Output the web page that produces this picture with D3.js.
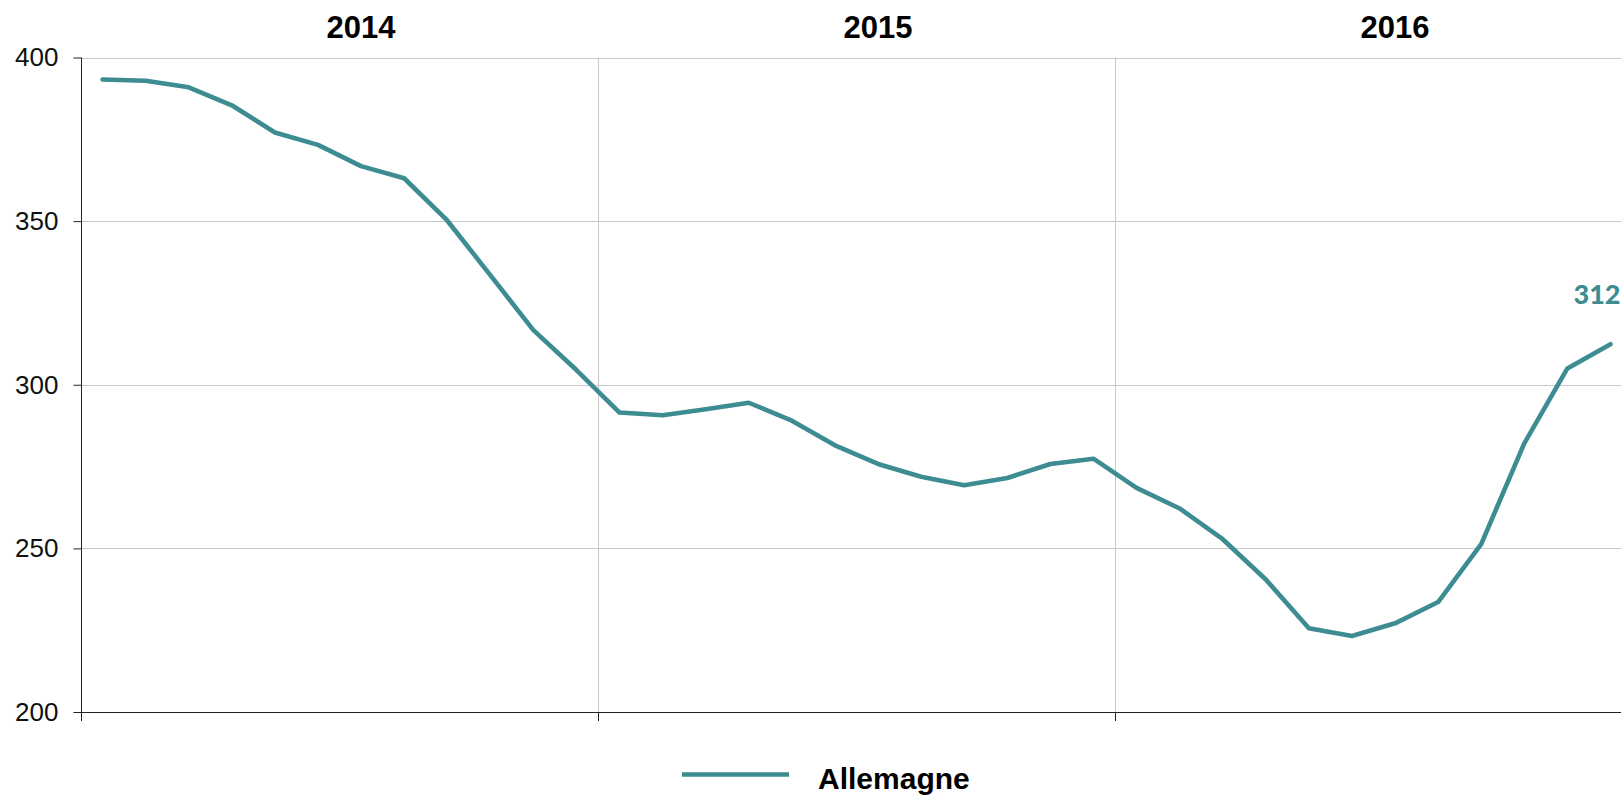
<!DOCTYPE html>
<html>
<head>
<meta charset="utf-8">
<script src="https://cdn.jsdelivr.net/npm/d3@7"></script>
<style>
  html, body { margin: 0; padding: 0; background: #fff; overflow: hidden; }
  svg { display: block; }
</style>
</head>
<body>
<svg id="chart" width="1621" height="796"></svg>
<script>
// ---- data ----
const years = ["2014", "2015", "2016"];
const months = ["01", "02", "03", "04", "05", "06", "07", "08", "09", "10", "11", "12"];
const values2014 = [393.3, 392.9, 390.9, 385.4, 377.1, 373.3, 366.8, 363.1, 350.2, 333.5, 316.7, 304.5];
const values2015 = [291.5, 290.7, 292.5, 294.5, 289.0, 281.5, 275.8, 271.9, 269.3, 271.5, 275.8, 277.4];
const values2016 = [268.5, 262.2, 252.8, 240.5, 225.6, 223.2, 227.1, 233.6, 251.3, 282.1, 305.0, 312.4];
const seriesName = "Allemagne";
const yTicks = [200, 250, 300, 350, 400];

// ---- build table ----
const yearValues = [values2014, values2015, values2016];
const data = [];
years.forEach((yr, i) => months.forEach((m, j) => data.push({ key: yr + "-" + m, year: yr, month: j, value: yearValues[i][j] })));

const color = "#3d8c92";
const font = "'Liberation Sans', Arial, sans-serif";

const svg = d3.select("#chart");
const plotLeft = 81, plotRight = 1632, plotTop = 57.5, plotBottom = 712;

const x = d3.scaleBand().domain(data.map(d => d.key)).range([plotLeft, plotRight]).padding(0);
const y = d3.scaleLinear().domain([200, 400]).range([plotBottom, plotTop]);

// horizontal gridlines
svg.append("g").selectAll("line").data(yTicks.filter(t => t > 200)).join("line")
  .attr("x1", plotLeft).attr("x2", 1621)
  .attr("y1", d => Math.round(y(d)) + 0.5).attr("y2", d => Math.round(y(d)) + 0.5)
  .attr("stroke", "#c8c8c8").attr("stroke-width", 1);

// year boundaries (vertical gridlines)
const boundaries = years.slice(1).map(yr => x(yr + "-01"));
svg.append("g").selectAll("line").data(boundaries).join("line")
  .attr("x1", d => Math.round(d) + 0.5).attr("x2", d => Math.round(d) + 0.5)
  .attr("y1", plotTop).attr("y2", plotBottom)
  .attr("stroke", "#c8c8c8").attr("stroke-width", 1);

// y axis
const yAxis = d3.axisLeft(y).tickValues(yTicks).tickSize(8).tickPadding(15).tickFormat(d3.format("d"));
const gy = svg.append("g").attr("transform", `translate(${plotLeft + 0.5},0)`).call(yAxis);
gy.select(".domain").remove();
gy.selectAll(".tick line").attr("stroke", "#222");
gy.selectAll("text").attr("font-family", font).attr("font-size", 26).attr("fill", "#111");
svg.append("line").attr("x1", plotLeft + 0.5).attr("x2", plotLeft + 0.5).attr("y1", plotTop).attr("y2", plotBottom + 9)
  .attr("stroke", "#222").attr("stroke-width", 1);

// x axis line
svg.append("line").attr("x1", plotLeft).attr("x2", 1621).attr("y1", plotBottom + 0.5).attr("y2", plotBottom + 0.5)
  .attr("stroke", "#222").attr("stroke-width", 1);
svg.append("g").selectAll("line").data(boundaries).join("line")
  .attr("x1", d => Math.round(d) + 0.5).attr("x2", d => Math.round(d) + 0.5)
  .attr("y1", plotBottom).attr("y2", plotBottom + 9)
  .attr("stroke", "#222").attr("stroke-width", 1);

// year labels at top
svg.append("g").selectAll("text").data(years).join("text")
  .attr("x", yr => x(yr + "-07") + x.bandwidth() / 2)
  .attr("y", 38)
  .attr("text-anchor", "middle")
  .attr("font-family", font).attr("font-weight", "bold").attr("font-size", 31)
  .attr("fill", "#000")
  .text(yr => yr);

// line
const line = d3.line().x(d => x(d.key) + x.bandwidth() / 2).y(d => y(d.value));
svg.append("path").datum(data)
  .attr("d", line)
  .attr("fill", "none").attr("stroke", color).attr("stroke-width", 4.6)
  .attr("stroke-linejoin", "round").attr("stroke-linecap", "round");

// last value label
const last = data[data.length - 1];
svg.append("text")
  .attr("x", x(last.key) + x.bandwidth() / 2 + 10)
  .attr("y", y(last.value) - 40.5)
  .attr("text-anchor", "end")
  .attr("font-family", "Lato, 'Open Sans', sans-serif").attr("font-weight", 900).attr("font-size", 27)
  .attr("fill", color)
  .text(Math.round(last.value));

// legend
const lg = svg.append("g");
lg.append("line").attr("x1", 682).attr("x2", 789).attr("y1", 774.5).attr("y2", 774.5)
  .attr("stroke", color).attr("stroke-width", 4.5);
lg.append("text").attr("x", 818).attr("y", 788.5)
  .attr("font-family", font).attr("font-weight", "bold").attr("font-size", 30).attr("fill", "#000")
  .text(seriesName);
</script>
</body>
</html>
